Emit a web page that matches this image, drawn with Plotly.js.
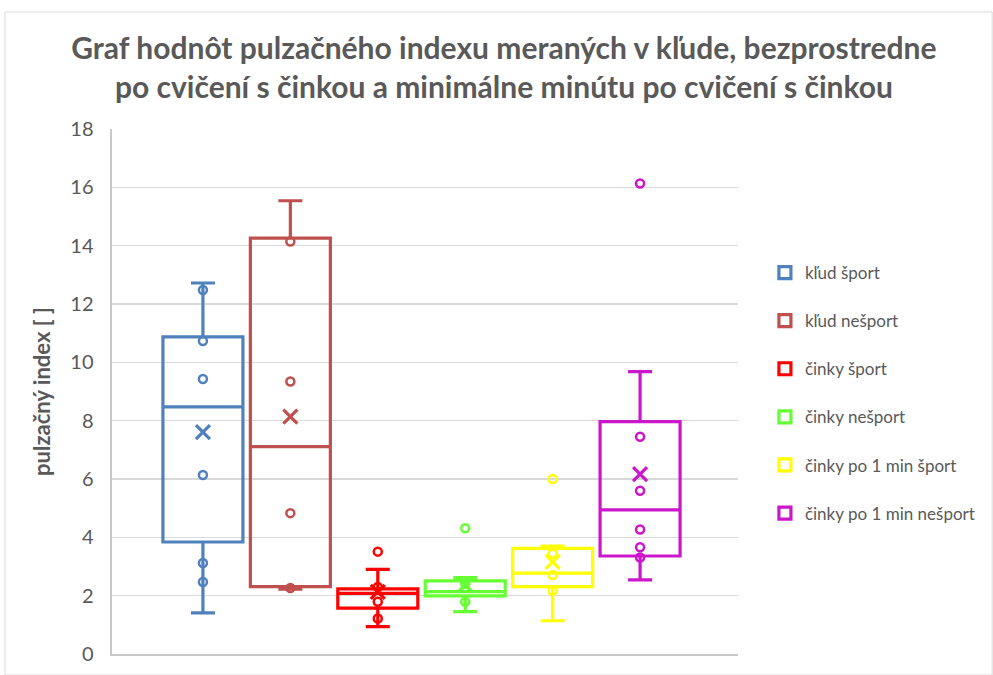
<!DOCTYPE html>
<html>
<head>
<meta charset="utf-8">
<script src="https://cdn.plot.ly/plotly-3.0.1.min.js"></script>
<style>html,body{margin:0;padding:0;background:#fff;}#chart{width:993px;height:675px;}</style>
</head>
<body>
<div id="chart"></div>
<script>
// ---- data ----
const series = ['kľud šport', 'kľud nešport', 'činky šport', 'činky nešport', 'činky po 1 min šport', 'činky po 1 min nešport'];
const colors = ['#4F81BD', '#C0504D', '#FF0000', '#66FF33', '#FFFF00', '#CC16CC'];
const lowerFence = [1.41, 2.22, 0.94, 1.45, 1.14, 2.54];
const q1         = [3.84, 2.31, 1.57, 1.99, 2.31, 3.36];
const median     = [8.47, 7.11, 2.08, 2.14, 2.77, 4.94];
const q3         = [10.87, 14.26, 2.23, 2.51, 3.62, 7.97];
const upperFence = [12.72, 15.54, 2.90, 2.62, 3.70, 9.68];
const means      = [7.61, 8.14, 2.13, 2.37, 3.16, 6.17];
const pointsKludSport      = [12.48, 10.73, 9.43, 6.14, 3.12, 2.47];
const pointsKludNesport    = [14.14, 9.34, 4.83, 2.26];
const pointsCinkySport     = [3.51, 2.30, 1.79, 1.22];
const pointsCinkyNesport   = [4.31, 2.40, 1.79];
const pointsPo1Sport       = [6.00, 3.45, 2.71, 2.17];
const pointsPo1Nesport     = [16.13, 7.45, 5.60, 4.27, 3.66, 3.31];
const yTicks = [0, 2, 4, 6, 8, 10, 12, 14, 16, 18];
const titleText = 'Graf hodnôt pulzačného indexu meraných v kľude, bezprostredne<br>po cvičení s činkou a minimálne minútu po cvičení s činkou';
const yTitle = 'pulzačný index [ ]';

const allPoints = [pointsKludSport, pointsKludNesport, pointsCinkySport, pointsCinkyNesport, pointsPo1Sport, pointsPo1Nesport];

const traces = [];
series.forEach((name, i) => {
  traces.push({
    type: 'box', name: name, x: [name],
    q1: [q1[i]], median: [median[i]], q3: [q3[i]],
    lowerfence: [lowerFence[i]], upperfence: [upperFence[i]],
    boxpoints: false, width: 0.915, whiskerwidth: 0.3,
    line: {color: colors[i], width: 3.2}, fillcolor: 'rgba(255,255,255,0)',
    legendgroup: 'g' + i, hoverinfo: 'skip'
  });
});
series.forEach((name, i) => {
  traces.push({
    type: 'scatter', mode: 'markers', x: allPoints[i].map(() => name), y: allPoints[i],
    marker: {symbol: 'circle-open', size: 8, color: colors[i], line: {width: 2.5, color: colors[i]}},
    showlegend: false, hoverinfo: 'skip'
  });
  traces.push({
    type: 'scatter', mode: 'markers', x: [name], y: [means[i]],
    marker: {symbol: 'x-thin-open', size: 14, color: colors[i], line: {width: 3.2, color: colors[i]}},
    showlegend: false, hoverinfo: 'skip'
  });
});

const layout = {
  width: 993, height: 675,
  margin: {l: 112, r: 255, t: 129, b: 21},
  paper_bgcolor: '#fff', plot_bgcolor: '#fff',
  font: {family: 'Lato, sans-serif', color: '#595959'},
  title: {text: titleText, font: {family: 'Lato, sans-serif', size: 30, color: '#595959', weight: 'bold'},
          x: 0.5075, xref: 'container', xanchor: 'center', y: 0.912, yref: 'container', yanchor: 'top'},
  boxmode: 'overlay',
  showlegend: true,
  legend: {x: 1.043, xanchor: 'left', y: 0.76, yanchor: 'top', font: {size: 17, color: '#595959'},
           tracegroupgap: 23, bgcolor: 'rgba(0,0,0,0)'},
  xaxis: {type: 'category', range: [-1.04, 6.12], showticklabels: false, ticks: '', showgrid: false,
          zeroline: false, showline: true, linecolor: '#C8C8C8', linewidth: 2, fixedrange: true},
  yaxis: {range: [0, 18], tickvals: yTicks, ticktext: yTicks.map(String), showgrid: true,
          gridcolor: '#D9D9D9', gridwidth: 1.5, zeroline: false, showline: true, linecolor: '#C8C8C8',
          linewidth: 2.5, ticks: '', ticklen: 0, ticklabelstandoff: 12, tickfont: {size: 20, color: '#595959'},
          title: {text: yTitle, font: {size: 22, color: '#595959', weight: 'bold'}, standoff: 14}},
  shapes: [{type: 'rect', xref: 'paper', yref: 'paper', x0: -0.171, x1: 1.406, y0: -0.04, y1: 1.223,
            line: {color: '#D9D9D9', width: 1}, fillcolor: 'rgba(0,0,0,0)', layer: 'below'}]
};

Plotly.newPlot('chart', traces, layout, {staticPlot: true, displayModeBar: false});
</script>
</body>
</html>
